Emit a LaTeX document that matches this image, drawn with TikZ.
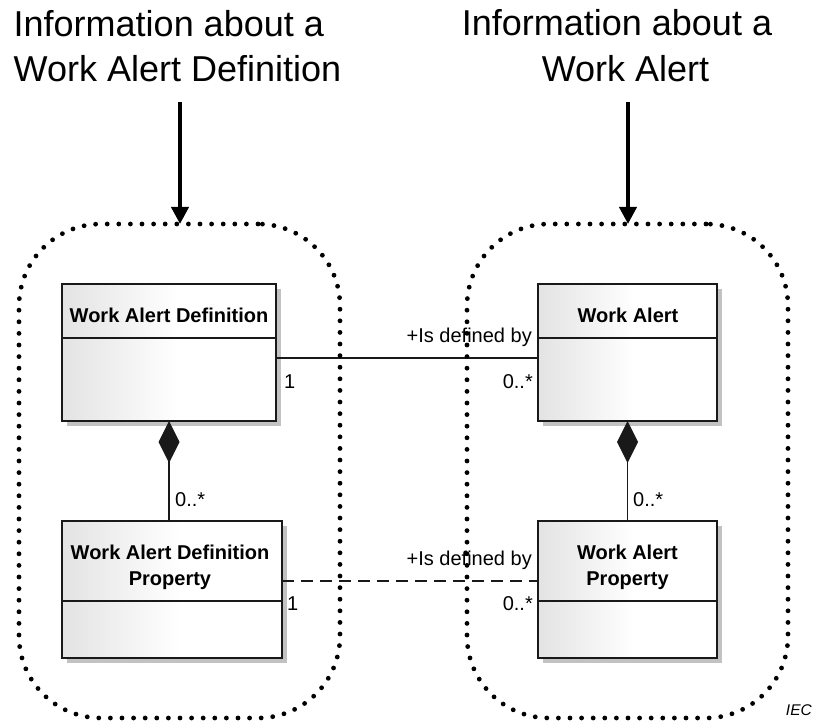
\documentclass[tikz,border=0pt]{standalone}
\usepackage{fontspec}
\setmainfont{Liberation Sans}
\usetikzlibrary{arrows.meta,shadows}

% light grey on the left fading to white towards the middle
\pgfdeclarehorizontalshading{umlfade}{100bp}{color(0bp)=(black!11); color(25bp)=(black!11); color(52bp)=(white); color(100bp)=(white)}

\begin{document}
\begin{tikzpicture}[x=1pt,y=-1pt,
  title/.style={font=\fontsize{36}{44}\selectfont, inner sep=0pt},
  group/.style={draw, line width=4.8pt, line cap=round, dash pattern=on 0pt off 11.6pt,
    rounded corners=82pt, minimum width=321pt, minimum height=494pt, inner sep=0pt, outer sep=0pt},
  umlclass/.style={draw=black!90, line width=1.5pt, shading=umlfade,
    drop shadow={shadow xshift=5pt, shadow yshift=-5pt, fill=black!24, opacity=1},
    minimum height=137pt, inner sep=0pt, outer sep=0pt},
  divider/.style={draw=black!90, line width=1.5pt},
  classname/.style={font=\bfseries\fontsize{20}{26}\selectfont, align=center, inner sep=0pt},
  mult/.style={font=\fontsize{20}{24}\selectfont, inner sep=0pt},
  assoc/.style={draw=black!90, line width=1.5pt},
  realise/.style={assoc, dash pattern=on 12pt off 7pt},
  composite/.style={assoc, -{Diamond[length=42pt,width=21pt]}},
  pointer/.style={line width=4pt, -{Triangle[length=17pt,width=17pt]}},
  credit/.style={font=\itshape\fontsize{15.5}{18}\selectfont, inner sep=0pt}
]
\useasboundingbox (0,0) rectangle (814,722);

% headings
\node[title, anchor=base west] (tl1) at (13.5,37) {Information about a};
\node[title, anchor=base west] (tl2) at (13.5,82) {Work Alert Definition};
\node[title, anchor=base] (tr1) at (617,36) {Information about a};
\node[title, anchor=base] (tr2) at (625.5,82) {Work Alert};

% classes
\node[umlclass, minimum width=214pt] (wad)  at (169,352.5) {};
\node[umlclass, minimum width=220pt] (wadp) at (172,589.5) {};
\node[umlclass, minimum width=179pt] (wa)   at (627.5,352.5) {};
\node[umlclass, minimum width=179pt] (wap)  at (627.5,589.5) {};

\draw[divider] ([yshift=-54pt]wad.north west) -- ([yshift=-54pt]wad.north east);
\draw[divider] ([yshift=-80pt]wadp.north west) -- ([yshift=-80pt]wadp.north east);
\draw[divider] ([yshift=-54pt]wa.north west) -- ([yshift=-54pt]wa.north east);
\draw[divider] ([yshift=-80pt]wap.north west) -- ([yshift=-80pt]wap.north east);

\node[classname] (wadT)  at (169,315) {Work Alert Definition};
\node[classname] (wadpT) at (170,567.5) {Work Alert Definition\\Property};
\node[classname] (waT)   at (628,315) {Work Alert};
\node[classname] (wapT)  at (627.5,567.5) {Work Alert\\Property};

% compositions
\draw[composite] (wad.south |- wadp.north) -- (wad.south);
\draw[composite] (wa.south |- wap.north) -- (wa.south);
\node[mult, anchor=west] (m1) at (175,500) {0..*};
\node[mult, anchor=west] (m2) at (633,500) {0..*};

% associations
\draw[assoc] ([yshift=-5.5pt]wad.east) -- ([yshift=-5.5pt]wa.west);
\node[mult, anchor=base east] (r1) at (532,342) {+Is defined by};
\node[mult, anchor=west] (r1a) at (284,382) {1};
\node[mult, anchor=east] (r1b) at (533,382) {0..*};

\draw[realise] ([yshift=8.5pt]wadp.east) -- ([yshift=8.5pt]wap.west);
\node[mult, anchor=base east] (r2) at (532,565) {+Is defined by};
\node[mult, anchor=west] (r2a) at (287,604) {1};
\node[mult, anchor=east] (r2b) at (533,604) {0..*};

% groupings
\node[group] (gL) at (179.5,471) {};
\node[group] (gR) at (627.5,471) {};

\coordinate (srcL) at (180,102);
\coordinate (srcR) at (628,102);
\draw[pointer] (srcL) -- (srcL |- gL.north);
\draw[pointer] (srcR) -- (srcR |- gR.north);

\node[credit, anchor=base east] (iec) at (812,715) {IEC};
\end{tikzpicture}
\end{document}
